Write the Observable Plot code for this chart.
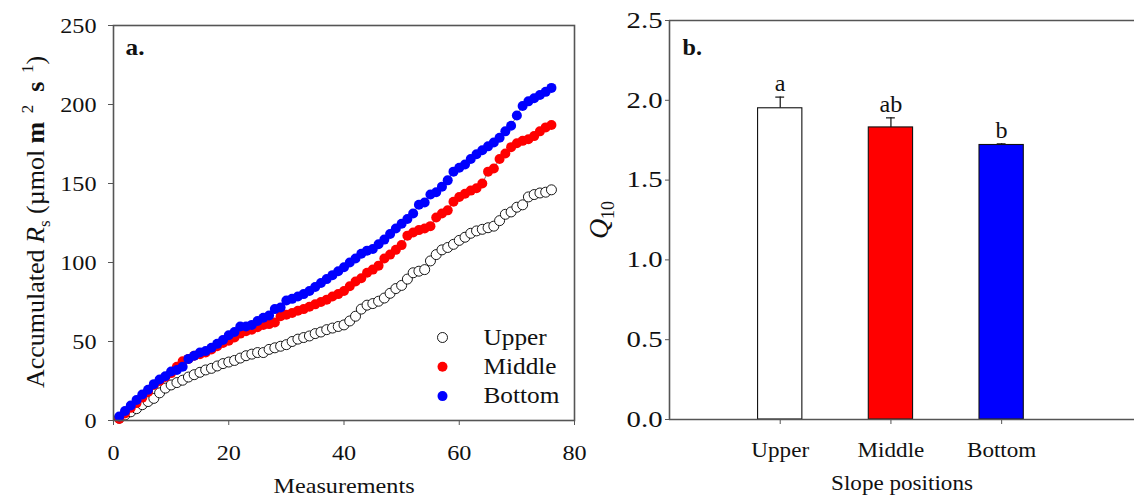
<!DOCTYPE html>
<html><head><meta charset="utf-8">
<script src="https://cdn.jsdelivr.net/npm/d3@7"></script>
<script src="https://cdn.jsdelivr.net/npm/@observablehq/plot@0.6"></script>
<style>
body{margin:0;background:#fff;}
#wrap{position:relative;width:1134px;height:498px;overflow:hidden;font-family:"Liberation Serif","Times New Roman",serif;}
#a{position:absolute;left:0;top:0;}
#b{position:absolute;left:580px;top:0;}
svg{overflow:visible;}
</style></head><body><div id="wrap"><div id="a"></div><div id="b"></div></div>
<script>
// ---------- data (panel a) ----------
const seriesNames = ["Upper", "Middle", "Bottom"];
const upperRs = [1.5,3.5,5.5,7.5,10,12,14,17.5,20.5,22.5,24,25.5,27.5,29,30.5,32,33,34.5,36,37,
  38,39.5,41,42,43,43,45,46,47,48,50,51.5,52.5,53.5,55,56,57.5,58.5,59.5,60.5,
  63,66,70.5,73,74,75.5,77.5,80.5,83.5,85.5,89.5,93.5,94.5,95.5,101,105,108,109.5,111.5,114,
  116,118.5,120,121,122,123,126.5,130.5,132,135,136.5,141.5,143,144,144.5,146];
const middleRs = [1,4.5,8,11,14.5,18,22.5,25,27.5,30,34,37.5,39,41,42,43,45,47,49,50.5,
  52.5,55,56.5,57.5,59,60.5,61,62,66,67,68,69.5,70.5,72,73.5,75,76.5,78.5,80,82,
  85,88,90,93.5,95.5,98,102.5,105,108,111,117,119,120.5,121.5,123,128.5,131,133,138.5,141.5,
  143.5,145.5,147,150,157.5,159.5,165.5,169,173,175.5,177,178,180,183,185.5,187];
const bottomRs = [2.5,6,9.5,13,16.5,19.5,23,26,28,31,32,34,39,41,43,44,46,48.5,51,54,
  56,59.5,59.5,60.5,63,65,66.5,70.5,71.5,76,77,78.5,80,82,84.5,87,89.5,92,94.5,97,
  100,102.5,105.5,107.5,108.5,111.5,114.5,118,121.5,124.5,127.5,131,136.5,138,143,144.5,148,152,157.5,160,
  162,165.5,168.5,171,173.5,176,179,183,186.5,193,199,202,204,206,208,210.5];
const seriesValues = [upperRs, middleRs, bottomRs];
const xTicksA = [0, 20, 40, 60, 80];
const yTicksA = [0, 50, 100, 150, 200, 250];

// ---------- data (panel b) ----------
const slopePositions = ["Upper", "Middle", "Bottom"];
const q10Mean = [1.95, 1.83, 1.72];
const q10SE = [0.07, 0.06, 0.007];
const sigLetters = ["a", "ab", "b"];
const yTicksB = [0, 0.5, 1.0, 1.5, 2.0, 2.5];

// ---------- styles ----------
const seriesStyle = {
  Upper: {fill: "#ffffff", stroke: "#000000"},
  Middle: {fill: "#ff0000", stroke: "none"},
  Bottom: {fill: "#0000ff", stroke: "none"}
};
const FONT = "'Liberation Serif','Times New Roman',serif";
const AX = "#555";

// build rows
const rows = [];
seriesNames.forEach((name, s) => seriesValues[s].forEach((v, i) => rows.push({series: name, m: i + 1, v})));

// ---------- panel a ----------
const legendMarks = seriesNames.flatMap((name, i) => [
  Plot.dot([name], {frameAnchor: "bottom-right", dx: -132, dy: -(83 - i * 29.3), r: 5,
    fill: seriesStyle[name].fill, stroke: seriesStyle[name].stroke, strokeWidth: 0.9}),
  Plot.text([name], {frameAnchor: "bottom-right", dx: -91, dy: -(83 - i * 29.3), textAnchor: "start", lineAnchor: "middle", fontSize: 23})
]);
const left = Plot.plot({
  width: 580, height: 498,
  marginLeft: 113, marginRight: 6, marginTop: 25, marginBottom: 78,
  x: {domain: [0, 80]},
  y: {domain: [0, 250]},
  style: {fontFamily: FONT, fontSize: "22px", color: "#111", background: "transparent", overflow: "visible"},
  marks: [
    Plot.axisX({ticks: xTicksA, tickSize: 5, tickPadding: 19, stroke: AX, fill: "#111", fontSize: 22, label: "Measurements", labelAnchor: "center", labelArrow: "none", labelOffset: 72}),
    Plot.axisY({ticks: yTicksA, tickSize: 5, tickPadding: 12, stroke: AX, fill: "#111", fontSize: 22, label: null}),
    Plot.line(rows, {x: "m", y: "v", z: "series", stroke: "#222", strokeWidth: 0.6}),
    ...seriesNames.map(name => Plot.dot(rows.filter(d => d.series === name), {
      x: "m", y: "v", r: 5, fill: seriesStyle[name].fill, stroke: seriesStyle[name].stroke, strokeWidth: 0.9
    })),
    Plot.frame({stroke: AX, strokeWidth: 1.6}),
    Plot.text(["a."], {frameAnchor: "top-left", dx: 12, dy: 13, lineAnchor: "top", fontWeight: "bold", fontSize: 23}),
    ...legendMarks
  ]
});
document.getElementById("a").appendChild(left);

// y label panel a (rich text)
{
  const svg = d3.select(left);
  const t = svg.append("text").attr("transform", "translate(44,222) rotate(-90)")
    .attr("text-anchor", "middle").attr("font-family", FONT).attr("font-size", 26).attr("fill", "#111");
  t.append("tspan").text("Accumulated ");
  t.append("tspan").attr("font-style", "italic").text("R");
  t.append("tspan").attr("font-size", 17).attr("dy", 6).text("s");
  t.append("tspan").attr("dy", -6).text(" (\u00b5mol ");
  t.append("tspan").attr("font-weight", "bold").text("m");
  t.append("tspan").attr("font-size", 17).attr("dy", -11).text("  2");
  t.append("tspan").attr("dy", 11).text("  ");
  t.append("tspan").attr("font-weight", "bold").text("s");
  t.append("tspan").attr("font-size", 17).attr("dy", -11).text("  1");
  t.append("tspan").attr("dy", 11).text(")");
}

// ---------- panel b ----------
const bars = slopePositions.map((name, i) => ({name, pos: i + 1, mean: q10Mean[i], se: q10SE[i], letter: sigLetters[i]}));
const BW = 0.2, CAP = 0.04;
const right = Plot.plot({
  width: 554, height: 498,
  marginLeft: 89, marginRight: 0, marginTop: 20, marginBottom: 79,
  x: {domain: [0, 4.2]},
  y: {domain: [0, 2.5]},
  style: {fontFamily: FONT, fontSize: "22px", color: "#111", background: "transparent", overflow: "visible"},
  marks: [
    Plot.axisX({ticks: bars.map(d => d.pos), tickFormat: p => slopePositions[p - 1], tickSize: 5, tickPadding: 17, stroke: AX, fill: "#111", fontSize: 22,
      label: "Slope positions", labelAnchor: "center", labelArrow: "none", labelOffset: 70}),
    Plot.axisY({ticks: yTicksB, tickFormat: d3.format(".1f"), tickSize: 4, tickPadding: 3, stroke: AX, fill: "#111", fontSize: 23, label: null, className: "ytb"}),
    Plot.ruleX(bars, {x: "pos", y1: "mean", y2: d => d.mean + d.se, stroke: "#111", strokeWidth: 1.2}),
    Plot.ruleY(bars, {y: d => d.mean + d.se, x1: d => d.pos - CAP, x2: d => d.pos + CAP, stroke: "#111", strokeWidth: 1.2}),
    Plot.rect(bars, {x1: d => d.pos - BW, x2: d => d.pos + BW, y1: 0, y2: "mean",
      fill: d => seriesStyle[d.name].fill, stroke: "#111", strokeWidth: 1.1}),
    Plot.text(bars, {x: "pos", y: d => d.mean + d.se, text: "letter", dy: -6, lineAnchor: "bottom", fontSize: 23}),
    Plot.ruleY([2.5, 0], {stroke: AX, strokeWidth: 1.6}),
    Plot.ruleX([0], {stroke: AX, strokeWidth: 1.6}),
    Plot.text(["b."], {frameAnchor: "top-left", dx: 13, dy: 18, lineAnchor: "top", fontWeight: "bold", fontSize: 23})
  ]
});
document.getElementById("b").appendChild(right);
{
  const svg = d3.select(right);
  const t = svg.append("text").attr("transform", "translate(28,220) rotate(-90)")
    .attr("text-anchor", "middle").attr("font-family", FONT).attr("font-size", 28).attr("fill", "#111");
  t.append("tspan").attr("font-style", "italic").text("Q");
  t.append("tspan").attr("font-size", 18).attr("dy", 6).text("10");
}

// slight horizontal widening of horizontal texts to match the reference's proportions
function widen(root, sel, k) {
  root.querySelectorAll(sel).forEach(t => {
    const tr = t.getAttribute("transform") || "";
    if (tr.includes("rotate")) return;
    const L = t.getComputedTextLength();
    if (L > 0) { t.setAttribute("textLength", L * k); t.setAttribute("lengthAdjust", "spacingAndGlyphs"); }
  });
}
widen(left, "text", 1.1);
widen(right, ".ytb text", 1.25);
widen(right, "text:not(.ytb text)", 1.05);
</script></body></html>
